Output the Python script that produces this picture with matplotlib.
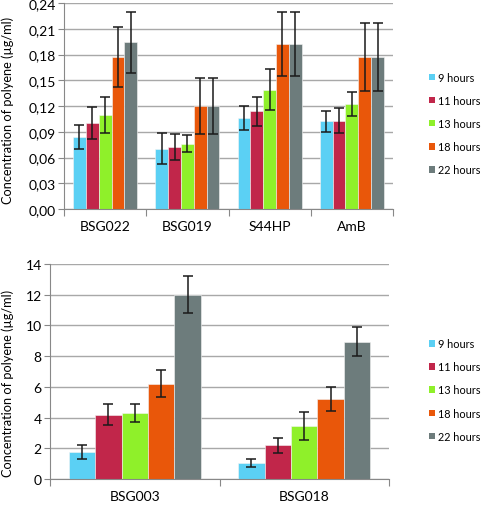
import numpy as np
import matplotlib
matplotlib.use('Agg')
from matplotlib import pyplot as plt
from matplotlib.patches import Patch

######### Data ############
series = ['9 hours', '11 hours', '13 hours', '18 hours', '22 hours']
colors = ['#5bd0f4', '#c1264a', '#8ff02a', '#e9570a', '#6d7c7c']

top_cats = ['BSG022', 'BSG019', 'S44HP', 'AmB']
top_vals = [
	[0.084, 0.070, 0.106, 0.102],
	[0.100, 0.072, 0.114, 0.103],
	[0.109, 0.076, 0.139, 0.122],
	[0.177, 0.120, 0.192, 0.177],
	[0.194, 0.120, 0.192, 0.177],
]
top_err = [
	[0.014, 0.018, 0.014, 0.012],
	[0.019, 0.015, 0.017, 0.015],
	[0.021, 0.010, 0.024, 0.014],
	[0.035, 0.033, 0.037, 0.040],
	[0.035, 0.033, 0.037, 0.040],
]
top_ticks = [0.00, 0.03, 0.06, 0.09, 0.12, 0.15, 0.18, 0.21, 0.24]

bot_cats = ['BSG003', 'BSG018']
bot_vals = [
	[1.75, 1.05],
	[4.2, 2.2],
	[4.3, 3.45],
	[6.2, 5.2],
	[12.0, 8.95],
]
bot_err = [
	[0.45, 0.26],
	[0.7, 0.48],
	[0.6, 0.9],
	[0.88, 0.8],
	[1.2, 0.93],
]
bot_ticks = [0, 2, 4, 6, 8, 10, 12, 14]
#############################

plt.rcParams['font.family'] = ['Lato', 'DejaVu Sans']
W, H = 482, 506
fig = plt.figure(figsize=(W/100, H/100), dpi=100)

def px_axes(x0, y0, x1, y1):
	return fig.add_axes([x0/W, 1 - y1/H, (x1 - x0)/W, (y1 - y0)/H])

def bars(ax, cats, vals, errs, ticks, fmt, ylabel_y):
	n = len(cats)
	w = 0.156
	x = np.arange(n)
	for i in range(len(series)):
		off = (i - 2) * w
		ax.bar(x + off, vals[i], w, color=colors[i], edgecolor='#f4f4f4',
			linewidth=0.4, zorder=3)
		ax.errorbar(x + off, vals[i], yerr=errs[i], fmt='none', ecolor='#1a1a1a',
			elinewidth=1.1, capsize=3.5, capthick=1.1, zorder=4)
	ax.set_xlim(-0.5, n - 0.5)
	ax.set_ylim(ticks[0], ticks[-1])
	ax.set_yticks(ticks)
	ax.set_yticklabels([fmt(t) for t in ticks])
	ax.yaxis.grid(True, color='#a8a8a8', linewidth=1.0, zorder=0)
	ax.set_axisbelow(True)
	ax.set_xticks(np.arange(n + 1) - 0.5)
	ax.set_xticklabels([])
	ax.set_xticks(x, minor=True)
	ax.set_xticklabels(cats, minor=True, fontsize=10)
	ax.tick_params(axis='x', which='minor', length=0, pad=8)
	ax.tick_params(axis='x', which='major', length=5, color='#888888')
	ax.tick_params(axis='y', length=4, color='#888888', labelsize=10, pad=2)
	for s in ['top', 'right']:
		ax.spines[s].set_visible(False)
	for s in ['left', 'bottom']:
		ax.spines[s].set_color('#888888')
	ax.spines['bottom'].set_zorder(5)
	fig.text(8/W, 1 - ylabel_y/H, 'Concentration of polyene (\u00b5g/ml)',
		rotation=90, ha='center', va='center', fontsize=9.2)

ax1 = px_axes(64, 4, 393, 210)
bars(ax1, top_cats, top_vals, top_err, top_ticks, lambda t: ('%.2f' % t).replace('.', ','), 110)

ax2 = px_axes(50, 265, 389, 480)
bars(ax2, bot_cats, bot_vals, bot_err, bot_ticks, lambda t: '%d' % t, 383)

handles = [Patch(facecolor=c, edgecolor='none') for c in colors]
for yc in [124.5, 391]:
	fig.legend(handles, series, loc='center left', bbox_to_anchor=(429/W, 1 - yc/H),
		frameon=False, fontsize=7.8, handlelength=0.55, handleheight=0.55,
		handletextpad=0.3, labelspacing=1.12, borderpad=0, borderaxespad=0)

plt.savefig('out.png', dpi=100)
